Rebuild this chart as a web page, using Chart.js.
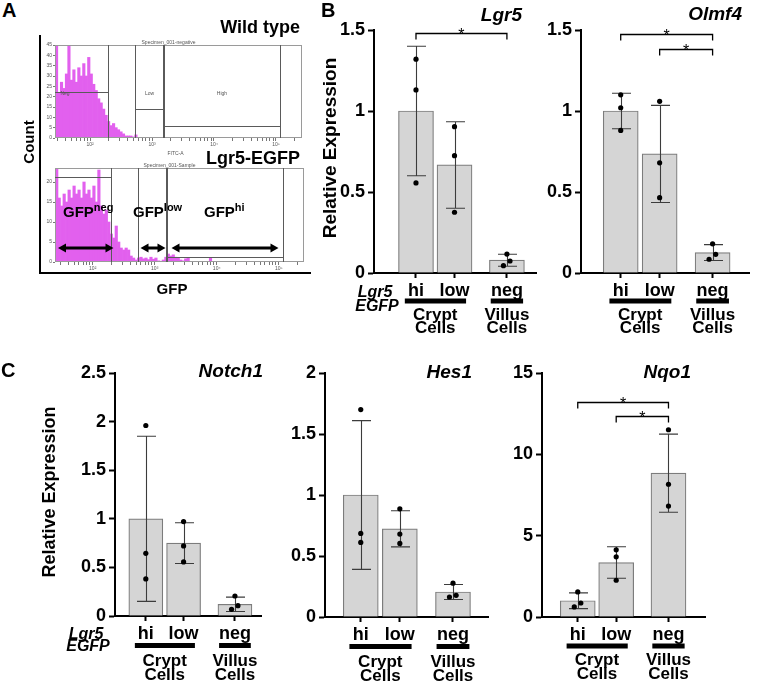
<!DOCTYPE html>
<html>
<head>
<meta charset="utf-8">
<title>Lgr5-EGFP sorted cells</title>
<script src="https://cdn.jsdelivr.net/npm/chart.js@4.4.1/dist/chart.umd.min.js"></script>
<style>
  body { margin: 0; background: #fff; }
  #fig { position: relative; width: 759px; height: 691px; overflow: hidden; font-family: "Liberation Sans", Arial, sans-serif; }
  #fig canvas { position: absolute; }
  .t { position: absolute; font-weight: bold; line-height: 1; white-space: nowrap; color: #000; }
  .t span { font-size: 11px; position: relative; top: -6px; }
</style>
</head>
<body>
<div id="fig">
  <div style="position:absolute;left:39px;top:35px;width:270px;height:237px;border-left:2px solid #000;border-bottom:2px solid #000"></div>
  <canvas id="fWt"></canvas>
  <canvas id="fEgfp"></canvas>
  <canvas id="cLgr5"></canvas>
  <canvas id="cOlmf4"></canvas>
  <canvas id="cNotch1"></canvas>
  <canvas id="cHes1"></canvas>
  <canvas id="cNqo1"></canvas>

  <div class="t" style="left:2px;top:0;font-size:20px">A</div>
  <div class="t" style="left:321px;top:0;font-size:20px">B</div>
  <div class="t" style="left:1px;top:360px;font-size:20px">C</div>
  <div class="t" style="right:459px;top:18px;font-size:18px">Wild type</div>
  <div class="t" style="right:459px;top:149px;font-size:18px">Lgr5-EGFP</div>
  <div class="t" style="left:28px;top:142px;font-size:15px;transform:translate(-50%,-50%) rotate(-90deg)">Count</div>
  <div class="t" style="left:172px;top:288px;font-size:15px;transform:translate(-50%,-50%)">GFP</div>
  <div class="t" style="left:63px;top:204px;font-size:15px">GFP<span>neg</span></div>
  <div class="t" style="left:133px;top:204px;font-size:15px">GFP<span>low</span></div>
  <div class="t" style="left:204px;top:204px;font-size:15px">GFP<span>hi</span></div>
</div>
<script>
// ---------- data ----------
const groups = ['hi', 'low', 'neg'];
const groupPos = [1, 2, 3.36];

const lgr5Mean = [1.0, 0.667, 0.079];
const lgr5Sd = [0.40, 0.267, 0.037];
const lgr5Pts = [[1.32, 1.13, 0.556], [0.903, 0.724, 0.375], [0.117, 0.074, 0.045]];

const olmf4Mean = [1.0, 0.735, 0.126];
const olmf4Sd = [0.11, 0.30, 0.049];
const olmf4Pts = [[1.10, 1.02, 0.88], [1.06, 0.68, 0.465], [0.18, 0.115, 0.085]];

const notch1Mean = [1.0, 0.75, 0.12];
const notch1Sd = [0.85, 0.21, 0.074];
const notch1Pts = [[1.96, 0.645, 0.381], [0.971, 0.721, 0.556], [0.206, 0.106, 0.069]];

const hes1Mean = [1.0, 0.723, 0.205];
const hes1Sd = [0.61, 0.148, 0.062];
const hes1Pts = [[1.70, 0.685, 0.611], [0.887, 0.68, 0.603], [0.277, 0.178, 0.164]];

const nqo1Mean = [1.0, 3.35, 8.84];
const nqo1Sd = [0.485, 0.965, 2.4];
const nqo1Pts = [[1.54, 0.86, 0.62], [4.13, 3.70, 2.26], [11.51, 8.16, 6.82]];

// flow histograms, FITC-A in log10 units, bins 0.04 wide
const logTicks = [2, 3, 4, 5];
const logTickText = ['10²', '10³', '10⁴', '10⁵'];
const binStep = 0.04;
const wtCounts = [45, 22, 27, 24, 31, 45, 28, 33, 27, 34, 30, 36, 30, 39, 31, 26, 23, 19, 17, 14,
  11, 8, 6, 7, 5, 4, 3, 2, 1, 1, 1, 0.5, 1.5];
const egfpCounts = [23.5, 16, 14, 17, 15, 18, 16, 19, 17, 18, 16, 20, 17, 18, 16, 19, 15, 23, 14, 12,
  13, 10, 7, 6, 9, 5, 3.5, 3, 3.5, 3, 1.5, 1, 0.5, 1, 1.2, 0.8, 1, 0.6, 1.2, 0.7,
  1, 0.3, 0.2, 0.5, 1.2, 2, 1.5, 1.8, 1.2, 1, 0.5, 0.3, 0.8, 1, 0, 0, 0, 0, 0, 0, 0, 0, 1];
const gates = [2.29, 2.73, 3.18, 5.07];   // neg | low | low/high | high

const FONT = '"Liberation Sans", Arial, sans-serif';
Chart.defaults.font.family = FONT;
Chart.defaults.color = '#000';

const jitter = [0, 0.08, -0.09];
const CAP = 9.5;

const panels = [
  { id: 'cLgr5', gene: 'Lgr5', mean: lgr5Mean, sd: lgr5Sd, pts: lgr5Pts, yMax: 1.5, yStep: 0.5,
    sig: [[0, 2, 1.48]], spread: [2],
    box: [320, 0, 220, 340], area: [374, 30, 538, 273], xr: [-0.09, 4.115], barW: 35,
    title: [522, 16], yTitle: [331, 148, 19], egfp: [375, 293, 307], below: [28, 42, 55] },
  { id: 'cOlmf4', gene: 'Olmf4', mean: olmf4Mean, sd: olmf4Sd, pts: olmf4Pts, yMax: 1.5, yStep: 0.5,
    sig: [[0, 2, 1.475], [1, 2, 1.38]], spread: [2],
    box: [540, 0, 219, 340], area: [581, 30, 749, 273], xr: [-0.02, 4.295], barW: 35,
    title: [742, 15], below: [28, 42, 55] },
  { id: 'cNotch1', gene: 'Notch1', mean: notch1Mean, sd: notch1Sd, pts: notch1Pts, yMax: 2.5, yStep: 0.5,
    sig: [], spread: [2],
    box: [0, 340, 265, 351], area: [115, 373, 262, 616], xr: [0.184, 4.05], barW: 34,
    title: [263, 372], yTitle: [50, 492, 18], egfp: [86, 635, 647], below: [29.5, 45, 59] },
  { id: 'cHes1', gene: 'Hes1', mean: hes1Mean, sd: hes1Sd, pts: hes1Pts, yMax: 2, yStep: 0.5,
    sig: [], spread: [2],
    box: [265, 340, 240, 351], area: [325, 373, 488, 617], xr: [0.085, 4.256], barW: 35,
    title: [472, 373], below: [29.5, 45, 59] },
  { id: 'cNqo1', gene: 'Nqo1', mean: nqo1Mean, sd: nqo1Sd, pts: nqo1Pts, yMax: 15, yStep: 5,
    sig: [[0, 2, 13.2], [1, 2, 12.37]], spread: [0],
    box: [505, 340, 254, 351], area: [542, 373, 705, 617], xr: [0.07, 4.31], barW: 35,
    title: [691, 373], below: [29, 43, 57] }
];

const flows = [
  { id: 'fWt', counts: wtCounts, start: 1.46, yMax: 45, yStep: 5,
    box: [40, 36, 270, 124], area: [55, 45, 302, 138], xr: [1.435, 5.42],
    levels: [22.3, 14, 5.8], title: 'Specimen_001-negative', xTitle: 'FITC-A', names: true },
  { id: 'fEgfp', counts: egfpCounts, start: 1.42, yMax: 23.5, yStep: 5,
    box: [40, 158, 270, 114], area: [55, 168, 304, 262], xr: [1.392, 5.408],
    levels: [21.2, null, 1.25], title: 'Specimen_001-Sample', arrowAt: 3.5 }
];

function place(cv, box) {
  cv.width = box[2]; cv.height = box[3];
  cv.style.left = box[0] + 'px'; cv.style.top = box[1] + 'px';
}

// ---------- bar panels ----------
function decor(p) {
  const ox = p.box[0], oy = p.box[1];
  return {
    id: 'decor',
    afterDatasetDraw(chart, args) {
      if (args.index !== 0) return;
      const { ctx, scales: { x, y } } = chart;
      ctx.save();
      ctx.strokeStyle = '#3c3c3c';
      ctx.lineWidth = 1.1;
      p.mean.forEach((m, i) => {
        const cx = Math.round(x.getPixelForValue(groupPos[i])) + 0.5;
        const t = y.getPixelForValue(m + p.sd[i]);
        const b = y.getPixelForValue(Math.max(m - p.sd[i], 0));
        ctx.beginPath();
        ctx.moveTo(cx, t); ctx.lineTo(cx, b);
        ctx.moveTo(cx - CAP, t); ctx.lineTo(cx + CAP, t);
        ctx.moveTo(cx - CAP, b); ctx.lineTo(cx + CAP, b);
        ctx.stroke();
      });
      ctx.restore();
    },
    afterDraw(chart) {
      const { ctx, scales: { x, y } } = chart;
      const px = i => x.getPixelForValue(groupPos[i]);
      const u = px(1) - px(0);
      const base = y.getPixelForValue(0);
      ctx.save();
      ctx.fillStyle = '#000';
      ctx.strokeStyle = '#000';

      // significance brackets
      ctx.lineWidth = 1.3;
      ctx.textAlign = 'center';
      ctx.textBaseline = 'alphabetic';
      ctx.font = '16px ' + FONT;
      p.sig.forEach(([a, b, lvl]) => {
        const yy = Math.round(y.getPixelForValue(lvl)) + 0.5;
        const xa = px(a), xb = px(b);
        ctx.beginPath();
        ctx.moveTo(xa, yy + 6); ctx.lineTo(xa, yy); ctx.lineTo(xb, yy); ctx.lineTo(xb, yy + 6);
        ctx.stroke();
        ctx.fillText('*', (xa + xb) / 2, yy + 6);
      });

      // group bars and names under the axis
      const [ul, cr, ce] = p.below;
      ctx.fillRect(px(0) - 0.29 * u, base + ul - 2.5, (px(1) + 0.3 * u) - (px(0) - 0.29 * u), 5);
      ctx.fillRect(px(2) - 0.42 * u, base + ul - 2.5, 0.84 * u, 5);
      ctx.font = 'bold 17px ' + FONT;
      ctx.textBaseline = 'middle';
      const mid = (px(0) + px(1)) / 2;
      ctx.fillText('Crypt', mid, base + cr);
      ctx.fillText('Cells', mid, base + ce);
      ctx.fillText('Villus', px(2), base + cr);
      ctx.fillText('Cells', px(2), base + ce);

      // gene name
      ctx.font = 'italic bold 19px ' + FONT;
      ctx.textAlign = 'right';
      ctx.fillText(p.gene, p.title[0] - ox, p.title[1] - oy);

      if (p.egfp) {
        ctx.font = 'italic bold 16px ' + FONT;
        ctx.textAlign = 'center';
        ctx.fillText('Lgr5', p.egfp[0] - ox, p.egfp[1] - oy);
        ctx.fillText('EGFP', p.egfp[0] - ox + 2, p.egfp[2] - oy);
      }
      if (p.yTitle) {
        ctx.translate(p.yTitle[0] - ox, p.yTitle[1] - oy);
        ctx.rotate(-Math.PI / 2);
        ctx.textAlign = 'center';
        ctx.font = 'bold ' + p.yTitle[2] + 'px ' + FONT;
        ctx.fillText('Relative Expression', 0, 0);
      }
      ctx.restore();
    }
  };
}

function barChart(p) {
  const cv = document.getElementById(p.id);
  place(cv, p.box);
  const [bx, by, bw, bh] = p.box;
  const [al, at, ar, ab] = p.area;
  const dots = [];
  p.pts.forEach((vals, g) => vals.forEach((v, k) => {
    dots.push({ x: groupPos[g] + (p.spread.includes(g) ? jitter[k] : 0), y: v });
  }));
  new Chart(cv, {
    type: 'bar',
    data: {
      datasets: [
        { type: 'bar', data: p.mean.map((m, i) => ({ x: groupPos[i], y: m })),
          backgroundColor: '#d5d5d5', borderColor: '#7c7c7c', borderWidth: 1.2,
          barThickness: p.barW, order: 2 },
        { type: 'scatter', data: dots, pointRadius: 2.6, pointBackgroundColor: '#000',
          pointBorderWidth: 0, order: 1 }
      ]
    },
    options: {
      responsive: false, animation: false, events: [],
      layout: { padding: { left: 0, top: at - by, right: bx + bw - ar, bottom: 0 } },
      plugins: { legend: { display: false }, tooltip: { enabled: false } },
      scales: {
        x: {
          type: 'linear', min: p.xr[0], max: p.xr[1], offset: false,
          afterFit: s => { s.height = by + bh - ab; },
          afterBuildTicks: s => { s.ticks = groupPos.map(v => ({ value: v })); },
          ticks: { callback: v => groups[groupPos.indexOf(v)] || '', autoSkip: false, maxRotation: 0,
                   padding: 2, font: { size: 18, weight: 'bold' }, color: '#000' },
          grid: { drawOnChartArea: false, offset: false, tickLength: 5, tickWidth: 2, color: '#000' },
          border: { color: '#000', width: 2 }
        },
        y: {
          min: 0, max: p.yMax,
          afterFit: s => { s.width = al - bx; },
          ticks: { stepSize: p.yStep, callback: v => String(v), padding: 3,
                   font: { size: 18, weight: 'bold' }, color: '#000' },
          grid: { drawOnChartArea: false, tickLength: 6, tickWidth: 2, color: '#000' },
          border: { color: '#000', width: 2 }
        }
      }
    },
    plugins: [decor(p)]
  });
}

// ---------- flow histograms ----------
function flowDecor(h) {
  return {
    id: 'flowDecor',
    afterDraw(chart) {
      const { ctx, chartArea: a, scales: { x, y } } = chart;
      const line = (x1, y1, x2, y2) => { ctx.beginPath(); ctx.moveTo(x1, y1); ctx.lineTo(x2, y2); ctx.stroke(); };
      const g = gates.map(v => Math.round(x.getPixelForValue(v)) + 0.5);
      const lv = h.levels.map(v => v === null ? null : Math.round(y.getPixelForValue(v)) + 0.5);
      ctx.save();
      ctx.lineWidth = 1;
      ctx.strokeStyle = '#9a9a9a';
      ctx.strokeRect(a.left + 0.5, a.top + 0.5, a.width - 1, a.height - 1);
      ctx.strokeStyle = '#5a5a5a';
      g.forEach(gx => line(gx, a.top, gx, a.bottom));
      line(g[2] + 1, a.top, g[2] + 1, a.bottom);
      if (lv[0] !== null) line(a.left, lv[0], g[0], lv[0]);
      if (lv[1] !== null) line(g[1], lv[1], g[2], lv[1]);
      if (lv[2] !== null) line(g[2], lv[2], g[3], lv[2]);

      ctx.fillStyle = '#555';
      ctx.font = '5px ' + FONT;
      ctx.textAlign = 'center';
      ctx.textBaseline = 'alphabetic';
      ctx.fillText(h.title, (a.left + a.right) / 2 - 10, a.top - 1.5);
      if (h.xTitle) ctx.fillText(h.xTitle, (a.left + a.right) / 2 - 3, a.bottom + 17);
      if (h.names) {
        ctx.textBaseline = 'middle';
        ctx.fillText('Neg', a.left + 10, lv[0] + 1);
        ctx.fillText('Low', (g[1] + g[2]) / 2, lv[0] + 1);
        ctx.fillText('High', (g[2] + g[3]) / 2, lv[0] + 1);
      }
      if (h.arrowAt) {
        const ay = y.getPixelForValue(h.arrowAt);
        ctx.strokeStyle = '#000';
        ctx.fillStyle = '#000';
        ctx.lineWidth = 3;
        const arrow = (x1, x2) => {
          line(x1 + 5, ay, x2 - 5, ay);
          ctx.beginPath();
          ctx.moveTo(x1, ay); ctx.lineTo(x1 + 8, ay - 4.5); ctx.lineTo(x1 + 8, ay + 4.5); ctx.closePath();
          ctx.moveTo(x2, ay); ctx.lineTo(x2 - 8, ay - 4.5); ctx.lineTo(x2 - 8, ay + 4.5); ctx.closePath();
          ctx.fill();
        };
        arrow(a.left + 3, g[0] + 2);
        arrow(g[1] + 2, g[2] - 1);
        arrow(g[2] + 5, g[3] - 5);
      }
      ctx.restore();
    }
  };
}

function flowChart(h) {
  const cv = document.getElementById(h.id);
  place(cv, h.box);
  const [bx, by, bw, bh] = h.box;
  const [al, at, ar, ab] = h.area;
  const minor = [];
  for (let d = 1; d <= 5; d++) for (let k = 2; k <= 9; k++) minor.push(d + Math.log10(k));
  new Chart(cv, {
    type: 'bar',
    data: {
      datasets: [{
        data: h.counts.map((c, i) => ({ x: h.start + i * binStep, y: c })),
        backgroundColor: 'rgb(226, 96, 238)', borderWidth: 0,
        barPercentage: 1, categoryPercentage: 1
      }]
    },
    options: {
      responsive: false, animation: false, events: [],
      layout: { padding: { left: 0, top: at - by, right: bx + bw - ar, bottom: 0 } },
      plugins: { legend: { display: false }, tooltip: { enabled: false } },
      scales: {
        x: {
          type: 'linear', min: h.xr[0], max: h.xr[1], offset: false,
          afterFit: s => { s.height = by + bh - ab; },
          afterBuildTicks: s => {
            s.ticks = logTicks.concat(minor).filter(v => v >= h.xr[0] && v <= h.xr[1])
              .sort((p, q) => p - q).map(v => ({ value: v }));
          },
          ticks: { autoSkip: false, maxRotation: 0, padding: 1, font: { size: 5 }, color: '#555',
                   callback: v => { const i = logTicks.indexOf(v); return i < 0 ? '' : logTickText[i]; } },
          grid: { drawOnChartArea: false, offset: false, tickLength: 3, color: '#777' },
          border: { display: false }
        },
        y: {
          min: 0, max: h.yMax,
          afterFit: s => { s.width = al - bx; },
          afterBuildTicks: s => { s.ticks = s.ticks.filter(t => t.value % h.yStep === 0); },
          ticks: { stepSize: h.yStep, padding: 1, font: { size: 5 }, color: '#555' },
          grid: { drawOnChartArea: false, tickLength: 2, color: '#777' },
          border: { display: false }
        }
      }
    },
    plugins: [flowDecor(h)]
  });
}

flows.forEach(flowChart);
panels.forEach(barChart);
</script>
</body>
</html>
